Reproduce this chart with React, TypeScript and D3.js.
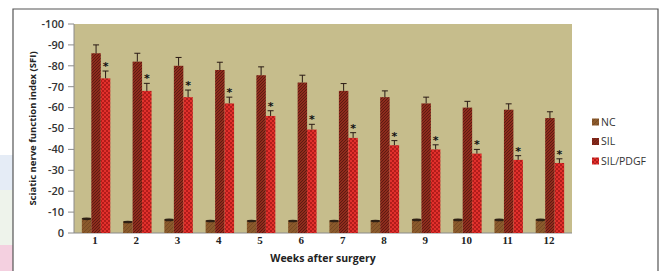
import React from 'react';
import * as d3 from 'd3';

const weeks = ['1', '2', '3', '4', '5', '6', '7', '8', '9', '10', '11', '12'];
const nc = [-7, -5.5, -6.5, -6, -6, -6, -6, -6, -6.5, -6.5, -6.5, -6.5];
const sil = [-86, -82, -80, -78, -75.5, -72, -68, -65, -62, -60, -59, -55];
const silErr = [4, 4, 4, 3.7, 4, 3.5, 3.5, 3, 3, 3, 2.8, 3];
const pdgf = [-74, -68, -65, -62, -56, -49.5, -45.5, -42, -40, -38, -35, -33.5];
const pdgfErr = [3.5, 3.6, 3.4, 3, 2.5, 2.5, 2.5, 2.2, 2.2, 2, 2, 2];
const yTicks = [0, -10, -20, -30, -40, -50, -60, -70, -80, -90, -100];
const seriesNames = ['NC', 'SIL', 'SIL/PDGF'];

const W = 659;
const H = 271;
const plot = { left: 74, right: 572, top: 24, bottom: 233 };

export default function App() {
  const x = d3.scaleBand<string>()
    .domain(weeks)
    .range([plot.left, plot.right])
    .paddingInner(0.31)
    .paddingOuter(0.19);
  const x1 = d3.scaleBand<string>().domain(seriesNames).range([0, x.bandwidth()]);
  const y = d3.scaleLinear().domain([0, -100]).range([plot.bottom, plot.top]);
  const bw = x1.bandwidth();

  const fills: Record<string, string> = {
    'NC': 'url(#pNC)',
    'SIL': 'url(#pSIL)',
    'SIL/PDGF': 'url(#pPDGF)',
  };

  return (
    <svg width={W} height={H} style={{ position: 'absolute', left: 0, top: 0 }}
      fontFamily="'Open Sans', 'DejaVu Sans', sans-serif">
      <defs>
        <pattern id="pNC" width="4" height="4" patternUnits="userSpaceOnUse">
          <rect width="4" height="4" fill="#8a5a2c" />
          <path d="M0,4 L4,0" stroke="#6e4420" strokeWidth="0.7" />
        </pattern>
        <pattern id="pSIL" width="3" height="3" patternUnits="userSpaceOnUse">
          <rect width="3" height="3" fill="#8e2c1d" />
          <path d="M0,3 L3,0 M-1,1 L1,-1 M2,4 L4,2" stroke="#581910" strokeWidth="0.9" />
        </pattern>
        <pattern id="pPDGF" width="4" height="4" patternUnits="userSpaceOnUse">
          <rect width="4" height="4" fill="#e2302c" />
          <rect width="2" height="2" fill="#b21c1a" />
          <rect x="2" y="2" width="2" height="2" fill="#b21c1a" />
        </pattern>
      </defs>

      <rect width={W} height={H} fill="#ffffff" />
      {/* page strips left of the frame */}
      <rect x={0} y={155} width={13} height={35} fill="#e5ecf6" />
      <rect x={0} y={190} width={13} height={55} fill="#eef3eb" />
      <rect x={0} y={245} width={13} height={26} fill="#f4d0e0" />
      <path d={`M13,${H} V9 H658 V${H}`} fill="none" stroke="#555" strokeWidth={1.2} />

      <rect x={plot.left} y={plot.top} width={plot.right - plot.left} height={plot.bottom - plot.top} fill="#c6bd8c" />
      <line x1={plot.left} x2={plot.left} y1={plot.top} y2={plot.bottom} stroke="#8a8a8a" />
      <line x1={plot.left} x2={plot.right} y1={plot.bottom} y2={plot.bottom} stroke="#8a8a8a" />

      {yTicks.map(t => (
        <g key={t}>
          <line x1={plot.left - 6} x2={plot.left} y1={y(t)} y2={y(t)} stroke="#8a8a8a" />
          <text x={plot.left - 10} y={y(t)} dy="0.35em" textAnchor="end" fontSize={11} fontWeight={600} fill="#333">{t}</text>
        </g>
      ))}

      {weeks.map((w, i) => {
        const gx = x(w) as number;
        const xn = gx + (x1('NC') as number);
        const xs = gx + (x1('SIL') as number);
        const xp = gx + (x1('SIL/PDGF') as number);
        const cs = xs + bw / 2;
        const cp = xp + bw / 2;
        const sTop = y(sil[i]);
        const sErr = y(sil[i] - silErr[i]);
        const pTop = y(pdgf[i]);
        const pErr = y(pdgf[i] - pdgfErr[i]);
        const nTop = y(nc[i]);
        return (
          <g key={w}>
            <rect x={xn} y={nTop} width={bw} height={plot.bottom - nTop} fill={fills['NC']} />
            <ellipse cx={xn + bw / 2} cy={nTop + 0.5} rx={bw / 2} ry={1.3} fill="#2e2014" />
            <rect x={xs} y={sTop} width={bw} height={plot.bottom - sTop} fill={fills['SIL']} />
            <rect x={xp} y={pTop} width={bw} height={plot.bottom - pTop} fill={fills['SIL/PDGF']} />
            <path d={`M${cs},${sTop} V${sErr} M${cs - 3},${sErr} H${cs + 3}`} stroke="#2a1a14" strokeWidth={1} fill="none" />
            <path d={`M${cp},${pTop} V${pErr} M${cp - 3},${pErr} H${cp + 3}`} stroke="#2a1a14" strokeWidth={1} fill="none" />
            <text x={cp} y={pErr - 1} textAnchor="middle" fontSize={11} fontWeight={700} fill="#111"
              fontFamily="'DejaVu Sans', sans-serif">*</text>
            <text x={gx + x.bandwidth() / 2 - 1} y={244} textAnchor="middle" fontSize={11} fontWeight={700}
              fill="#222" fontFamily="'Liberation Serif', serif">{w}</text>
          </g>
        );
      })}

      <text x={(plot.left + plot.right) / 2} y={258} dy="0.35em" textAnchor="middle" fontSize={10.5} fontWeight={700} fill="#222">
        Weeks after surgery
      </text>
      <text transform={`translate(33,${(plot.top + plot.bottom) / 2}) rotate(-90)`} textAnchor="middle" dy="0.35em"
        fontSize={9.5} fontWeight={700} fill="#222">
        Sciatic nerve function index (SFI)
      </text>

      {seriesNames.map((s, i) => (
        <g key={s} transform={`translate(592,${122 + i * 19.5})`}>
          <rect x={0} y={-3.5} width={7} height={7} fill={fills[s]} />
          <text x={9} y={0} dy="0.35em" fontSize={10.5} fill="#333">{s}</text>
        </g>
      ))}
    </svg>
  );
}
